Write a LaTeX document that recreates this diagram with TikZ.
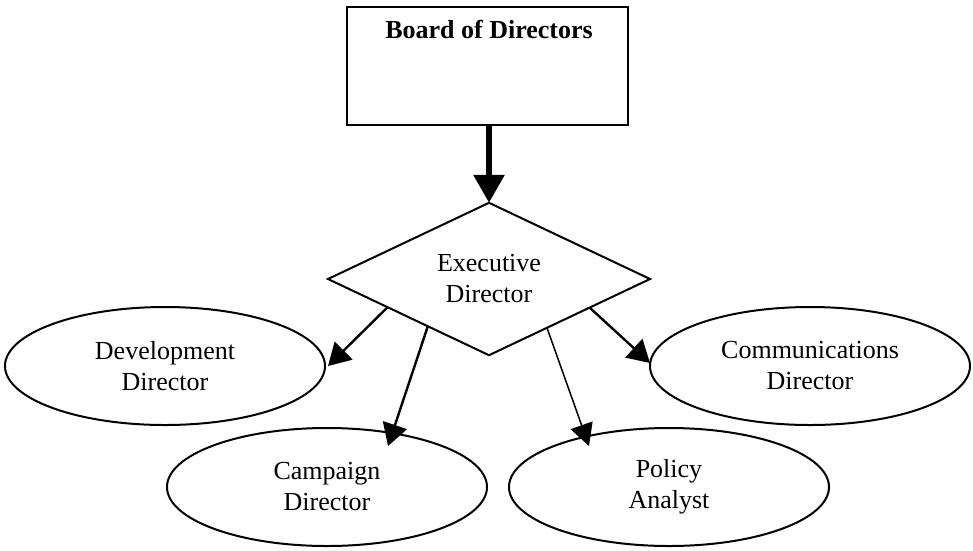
\documentclass[tikz,border=0pt]{standalone}
\usepackage{fontspec}
\setmainfont{Liberation Serif}
\usetikzlibrary{shapes.geometric,arrows.meta,calc}
\tikzset{
  boxnode/.style={draw, line width=2pt, rectangle, inner sep=0pt, outer sep=0pt},
  dianode/.style={draw, line width=2pt, diamond, inner sep=0pt, outer sep=0pt, minimum width=322pt, minimum height=148pt, align=center},
  ellnode/.style={draw, line width=2pt, ellipse, inner sep=0pt, outer sep=0pt, minimum width=320pt, minimum height=118pt, align=center},
  bigarrow/.style={line width=6pt, -{Triangle[length=28pt,width=30pt]}},
  smallarrow/.style={line width=2.4pt, -{Triangle[length=22pt,width=25pt]}},
  thinarrow/.style={line width=1.5pt, -{Triangle[length=22pt,width=23pt]}}
}
\begin{document}
\begin{tikzpicture}[x=1pt,y=-1pt,font=\fontsize{26}{31}\selectfont]
\useasboundingbox (0,0) rectangle (973,550);
\node[boxnode, minimum width=281pt, minimum height=118pt] (board) at (487.5,66) {};
\node[font=\fontsize{26}{31}\selectfont\bfseries, anchor=base, inner sep=0pt] (boardtxt) at (489,38) {Board of Directors};
\node[dianode] (exec) at (489,279) {Executive\\Director};
\node[ellnode] (dev) at (165,366) {Development\\Director};
\node[ellnode] (comm) at (810,366) {Communications\\Director};
\node[ellnode] (camp) at (327,487) {Campaign\\Director};
\node[ellnode] (pol) at (669,487) {Policy\\Analyst};
\coordinate (devT) at ($(dev.east)+(3,0)$);
\coordinate (commT) at ($(comm.west)+(0,-3)$);
\coordinate (campT) at ($(camp.center)+(61,-41)$);
\coordinate (polT) at ($(pol.center)+(-80,-41)$);
\draw[bigarrow] (board.south -| exec.north) -- (exec.north);
\draw[smallarrow] ($(exec.west)!0.37!(exec.south)$) -- (devT);
\draw[smallarrow] ($(exec.west)!0.62!(exec.south)$) -- (campT);
\draw[thinarrow] ($(exec.south)!0.36!(exec.east)$) -- (polT);
\draw[smallarrow] ($(exec.south)!0.625!(exec.east)$) -- (commT);
\end{tikzpicture}
\end{document}
